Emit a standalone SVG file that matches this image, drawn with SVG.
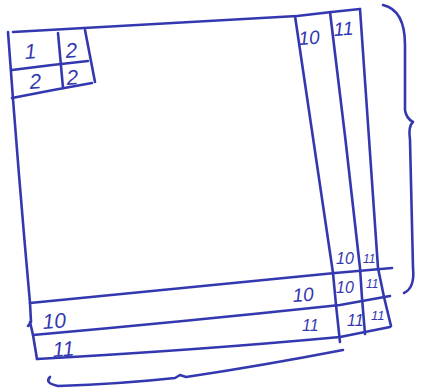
<svg xmlns="http://www.w3.org/2000/svg" width="422" height="392" viewBox="0 0 422 392">
<style>
.l{fill:none;stroke:#3438b0;stroke-width:2.6;stroke-linecap:round;stroke-linejoin:round}
.t{font-family:"Liberation Sans",Arial,sans-serif;font-size:18px;fill:#3438b0;font-style:italic}
</style>
<rect width="422" height="392" fill="#fff"/>
<g id="connectors">
<path class="l" d="M13,32 Q150,24 297,16 Q330,12 360,9"/>
<path class="l" d="M8,32 Q18,170 30,303 L31,322 L28,326 M30,322 L33,335 L37,359"/>
<path class="l" d="M295,16 Q315,150 333,273 L336,305 L340,342"/>
<path class="l" d="M330,12 Q346,140 360,268 L362,298 L365,334"/>
<path class="l" d="M360,9 Q369,140 378,268 L384,297 L391,326"/>
<path class="l" d="M30,303 Q180,288 335,273 L392,268"/>
<path class="l" d="M33,335 Q180,322 340,305 L390,296"/>
<path class="l" d="M37,359 Q200,350 340,337 L390,327"/>
<path class="l" d="M12,70 Q50,65 88,61"/>
<path class="l" d="M12,98 Q52,90 92,83"/>
<path class="l" d="M58,33 L63,88"/>
<path class="l" d="M85,30 L95,82"/>
<path class="l" d="M50,377 Q44,383 58,386 Q120,384 175,378 L180,375 L186,377 Q260,366 343,350"/>
<path class="l" d="M383,5 Q405,10 405,45 L405,110 Q406,118 413,122 Q408,126 410,140 L413,268 Q415,288 404,293"/>
</g>
<g id="cells" class="t">
<text x="25" y="59" font-size="21" transform="rotate(-4 25 59)">1</text>
<text x="66" y="58" font-size="21" transform="rotate(-4 66 58)">2</text>
<text x="30" y="89" font-size="21" transform="rotate(-4 30 89)">2</text>
<text x="67" y="85" font-size="21" transform="rotate(-4 67 85)">2</text>
<text x="299" y="45" font-size="19" transform="rotate(-4 299 45)">10</text>
<text x="334" y="36" font-size="19" transform="rotate(-4 334 36)">11</text>
<text x="336" y="264" font-size="16">10</text>
<text x="363" y="263" font-size="12">11</text>
<text x="336" y="293" font-size="16">10</text>
<text x="366" y="288" font-size="12">11</text>
<text x="293" y="302" font-size="19" transform="rotate(-4 293 302)">10</text>
<text x="302" y="331" font-size="16">11</text>
<text x="347" y="326" font-size="16">11</text>
<text x="371" y="320" font-size="13">11</text>
<text x="43" y="329" transform="rotate(-4 43 329)" font-size="21">10</text>
<text x="53" y="357" transform="rotate(-4 53 357)" font-size="21">11</text>
</g>
</svg>
